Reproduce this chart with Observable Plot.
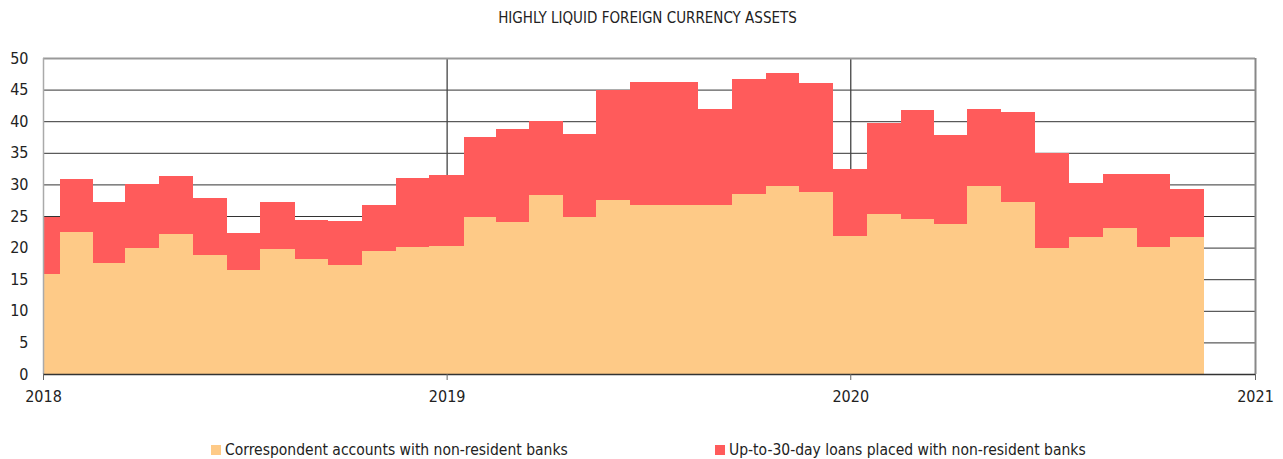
<!DOCTYPE html>
<html>
<head>
<meta charset="utf-8">
<script src="https://cdn.jsdelivr.net/npm/d3@7"></script>
<script src="https://cdn.jsdelivr.net/npm/@observablehq/plot@0.6"></script>
<style>
  html, body { margin: 0; padding: 0; background: #fff; }
  #wrap { position: relative; width: 1283px; height: 459px; font-family: "Liberation Sans Narrow", "DejaVu Sans Condensed", sans-serif; color: #222; }
  #title { position: absolute; top: 9px; left: 0; width: 1283px; padding-left: 12px; box-sizing: border-box; text-align: center; font-size: 15px; letter-spacing: 0px; }
  #legend { position: absolute; top: 441px; left: 0; width: 1283px; font-size: 15.5px; }
  .item { position: absolute; top: 0; white-space: nowrap; }
  .sw { display: inline-block; width: 10px; height: 10px; margin-right: 4px; vertical-align: 0px; }
  #chart { position: absolute; top: 0; left: 0; }
</style>
</head>
<body>
<div id="wrap">
  <div id="chart"></div>
  <div id="title">HIGHLY LIQUID FOREIGN CURRENCY ASSETS</div>
  <div id="legend"></div>
</div>
<script>
// Monthly observations, January 2018 – November 2020 (USD bn)
const months = [
  "2018-01","2018-02","2018-03","2018-04","2018-05","2018-06","2018-07","2018-08","2018-09","2018-10","2018-11","2018-12",
  "2019-01","2019-02","2019-03","2019-04","2019-05","2019-06","2019-07","2019-08","2019-09","2019-10","2019-11","2019-12",
  "2020-01","2020-02","2020-03","2020-04","2020-05","2020-06","2020-07","2020-08","2020-09","2020-10","2020-11"
];
const correspondent = [
  15.8, 22.4, 17.5, 20.0, 22.1, 18.9, 16.4, 19.7, 18.2, 17.2, 19.4, 20.1,
  20.3, 24.8, 24.1, 28.4, 24.8, 27.6, 26.8, 26.8, 26.8, 28.5, 29.8, 28.8,
  21.8, 25.3, 24.5, 23.8, 29.7, 27.2, 20.0, 21.7, 23.1, 20.1, 21.7
];
const loans = [
  9.0, 8.5, 9.7, 10.1, 9.3, 9.0, 5.9, 7.5, 6.2, 7.0, 7.3, 10.9,
  11.2, 12.7, 14.6, 11.6, 13.1, 17.4, 19.4, 19.4, 15.1, 18.2, 17.9, 17.2,
  10.7, 14.4, 17.3, 14.0, 12.2, 14.2, 15.0, 8.5, 8.6, 11.5, 7.6
];
const seriesNames = ["Correspondent accounts with non-resident banks", "Up-to-30-day loans placed with non-resident banks"];
const seriesColors = ["#FECA87", "#FF5B5B"];
const yTicks = [0, 5, 10, 15, 20, 25, 30, 35, 40, 45, 50];
const xTickYears = ["2018-01-01", "2019-01-01", "2020-01-01", "2021-01-01"];

const parse = d3.utcParse("%Y-%m");
const x0 = new Date(xTickYears[0]);
const xEnd = new Date(xTickYears[xTickYears.length - 1]);

// Build stacked, month-centred step rectangles
const rows = [];
months.forEach((m, i) => {
  const d = parse(m);
  const prev = d3.utcMonth.offset(d, -1);
  const next = d3.utcMonth.offset(d, 1);
  let a = new Date((+prev + +d) / 2);
  if (a < x0) a = x0;
  const b = new Date((+d + +next) / 2);
  const c = correspondent[i], l = loans[i];
  rows.push({x1: a, x2: b, y1: 0, y2: c, s: seriesNames[0]});
  rows.push({x1: a, x2: b, y1: c, y2: c + l, s: seriesNames[1]});
});

const yearDates = xTickYears.map(s => new Date(s));
const inner = yTicks.filter(v => v !== 0 && v !== 50);

const chart = Plot.plot({
  width: 1283,
  height: 459,
  marginTop: 58,
  marginBottom: 85,
  marginLeft: 43,
  marginRight: 28,
  style: {fontFamily: '"Liberation Sans Narrow", "DejaVu Sans Condensed", sans-serif', fontSize: "16px", color: "#222", background: "#fff"},
  x: {type: "utc", domain: [x0, xEnd], ticks: yearDates, tickFormat: d3.utcFormat("%Y"), tickSize: 6, tickPadding: 10, label: null},
  y: {domain: [0, 50], ticks: yTicks, tickSize: 0, tickPadding: 15, label: null},
  color: {domain: seriesNames, range: seriesColors},
  marks: [
    Plot.ruleY(inner, {stroke: "#333", strokeWidth: 1}),
    Plot.ruleX(yearDates.slice(1, -1), {stroke: "#444", strokeWidth: 1.3}),
    Plot.rect(rows, {x1: "x1", x2: "x2", y1: "y1", y2: "y2", fill: "s", shapeRendering: "crispEdges"}),
    Plot.ruleY([50], {stroke: "#999", strokeWidth: 2}),
    Plot.ruleX([x0], {stroke: "#aaa", strokeWidth: 1.5}),
    Plot.ruleX([xEnd], {stroke: "#888", strokeWidth: 2}),
    Plot.ruleY([0], {stroke: "#333", strokeWidth: 1.5}),
    Plot.axisX({ticks: yearDates, tickFormat: d3.utcFormat("%Y"), tickSize: 6, tickPadding: 10, stroke: "#666", fill: "#222"}),
    Plot.axisY({ticks: yTicks, tickSize: 0, tickPadding: 15, fill: "#222"})
  ]
});
document.getElementById("chart").appendChild(chart);

const legend = document.getElementById("legend");
const lefts = [211, 715];
seriesNames.forEach((name, i) => {
  const it = document.createElement("div");
  it.className = "item";
  it.style.left = lefts[i] + "px";
  it.innerHTML = `<span class="sw" style="background:${seriesColors[i]}"></span>${name}`;
  legend.appendChild(it);
});
</script>
</body>
</html>
